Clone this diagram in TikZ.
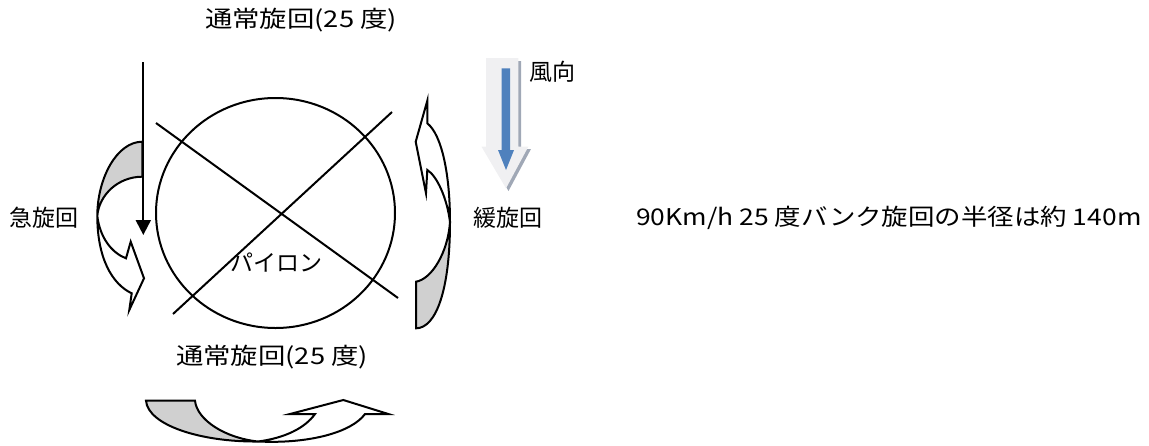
\documentclass[tikz,border=0pt]{standalone}
\usepackage{fontspec}
\usepackage{graphicx}
\setmainfont{Noto Sans CJK JP}
\usetikzlibrary{arrows.meta}
\definecolor{bandgrey}{RGB}{208,208,208}
\definecolor{windblue}{RGB}{79,129,189}
\definecolor{windpale}{RGB}{240,240,242}
\definecolor{windshadow}{RGB}{160,168,182}
\tikzset{
  outl/.style={draw=black, line width=2pt, line join=miter},
  greyband/.style={outl, fill=bandgrey},
  whiteband/.style={outl, fill=white},
  thickline/.style={line width=2pt},
  lbl/.style={inner sep=0pt, font=\fontsize{23}{27}\selectfont},
}
\begin{document}
\begin{tikzpicture}[x=1pt,y=-1pt]
\useasboundingbox (0,0) rectangle (1149,445);
% pylon circle and cross
\draw[thickline] (275.5,213) ellipse [x radius=119.5, y radius=115];
\coordinate (c1a) at (156,123); \coordinate (c1b) at (398,298);
\coordinate (c2a) at (392,112); \coordinate (c2b) at (173,314);
\draw[thickline] (c1a) -- (c1b);
\draw[thickline] (c2a) -- (c2b);
% left curved arrow (steep turn)
\draw[greyband] (142.3,141.7) .. controls (117,141.7) and (97.3,178) .. (97.3,216)
  .. controls (99,195) and (118,176.7) .. (142.3,176.7) -- cycle;
\draw[whiteband] (97.3,216) .. controls (100,238) and (112,253) .. (126,258.3)
  -- (130.7,241.7) -- (144,278.3) -- (129.3,310) -- (131.7,293.3)
  .. controls (112,284) and (97.3,258) .. (97.3,216) -- cycle;
% vertical arrow
\coordinate (vs) at (143.3,62); \coordinate (ve) at (143.3,235);
\draw[thickline, -{Triangle[width=15pt,length=15pt]}] (vs) -- (ve);
% right curved arrow (gentle turn)
\draw[greyband] (416,328.3) .. controls (436,328.3) and (450,290) .. (450,222)
  .. controls (448,252) and (432,279) .. (416,281.7) -- cycle;
\draw[whiteband] (450,222) .. controls (450,175) and (442,135) .. (427.3,123.3)
  -- (427.3,100.7) -- (415.7,141.7) -- (426,193.3) -- (427.3,170)
  .. controls (437,176) and (447,198) .. (450,222) -- cycle;
% bottom curved arrow
\draw[greyband] (146,400.7) -- (195,400.7) .. controls (197,420) and (225,438) .. (258,441.5)
  .. controls (200,442) and (148,425) .. (146,400.7) -- cycle;
\draw[whiteband] (258,441.5) .. controls (285,438) and (305,428) .. (315,414)
  -- (290,414) -- (343.3,400) -- (388.3,414) -- (365,414)
  .. controls (352,432) and (310,444) .. (258,441.5) -- cycle;
% wind arrow
\fill[windshadow] (489,61) -- (521,61) -- (521,149) -- (531,149) -- (508.5,191) -- (484,149) -- (489,149) -- cycle;
\fill[windpale] (486,58) -- (518.3,58) -- (518.3,146.7) -- (528.3,146.7) -- (506,188.3) -- (481.5,146.7) -- (486,146.7) -- cycle;
\fill[windblue] (501.7,68.3) -- (510,68.3) -- (510,150) -- (514,150) -- (506,170) -- (498,150) -- (501.7,150) -- cycle;
% labels
\node[lbl, anchor=west] (ttop) at (205,20) {\scalebox{1.19}[1]{通常旋回(25 度)}};
\node[lbl, anchor=west] (twind) at (529,72) {風向};
\node[lbl, anchor=west] (tsteep) at (9,218) {急旋回};
\node[lbl, anchor=west] (tgentle) at (473,218) {緩旋回};
\node[lbl, anchor=west] (tnote) at (636,218) {\scalebox{1.15}[1]{90Km/h 25 度バンク旋回の半径は約 140m}};
\node[lbl] (tpylon) at (276,263) {パイロン};
\node[lbl, anchor=west] (tbot) at (176,357) {\scalebox{1.19}[1]{通常旋回(25 度)}};
\end{tikzpicture}
\end{document}
